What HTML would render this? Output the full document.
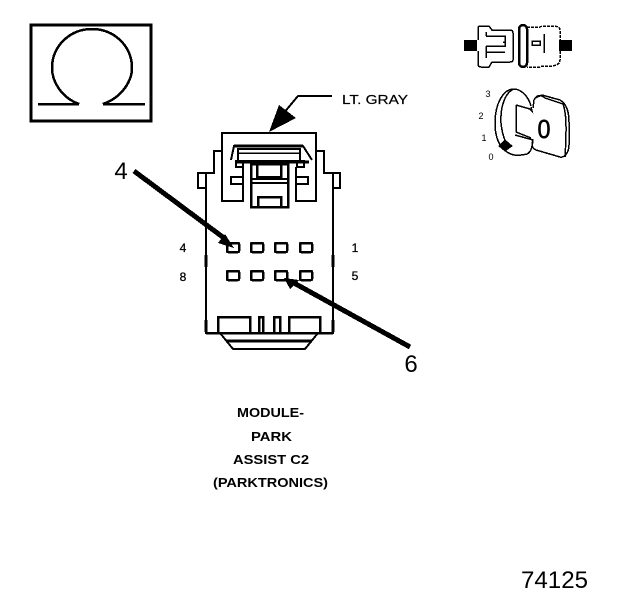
<!DOCTYPE html>
<html>
<head>
<meta charset="utf-8">
<style>
html,body{margin:0;padding:0;background:#fff}
svg{display:block}
text{font-family:"Liberation Sans",sans-serif;fill:#000}
</style>
</head>
<body>
<svg width="624" height="600" viewBox="0 0 624 600" xmlns="http://www.w3.org/2000/svg">
<rect width="624" height="600" fill="#fff"/>
<g shape-rendering="crispEdges">
<!-- Omega -->
<rect x="31" y="25" width="120" height="96" fill="none" stroke="#000" stroke-width="3"/>
<path d="M38 104H79C60 97 52 80 52 68C52 46 70 29 92 29C114 29 132 46 132 68C132 80 123 97 103 104H145" fill="none" stroke="#000" stroke-width="2.500"/>
<!-- Connector outline -->
<g fill="none" stroke="#000" stroke-width="2">
<path d="M206 333V173H214V151H222V133H316V151H324V173H333V333H206Z"/>
<path d="M222 133V201H243V167M316 133V201H296V167"/>
<path d="M206 173H198V188H206V173M333 173H340V188H333V173"/>
<path d="M231 160L234 146H303L312 160"/>
<path d="M234 146H303" stroke-width="3"/>
<path d="M238 149H300V161H238Z"/>
<path d="M235 162H309" stroke-width="3"/>
<path d="M238 153H300" stroke-width="1.500"/>
<path d="M236 161H243V167H236ZM297 161H304V167H297Z"/>
<path d="M251 162V207H288V162" stroke-width="2.500"/>
<path d="M257 163V177H281V163" stroke-width="2.500"/>
<path d="M252 164H287" stroke-width="3"/>
<path d="M252 179H287M252 183H287"/>
<path d="M258 207V197H281V207" stroke-width="2.500"/>
<path d="M243 177H231V184H243M296 177H308V184H296"/>
<path d="M206 255V267M333 255V267M206 320V332M333 320V332" stroke-width="3"/>
<!-- pins -->
<g stroke-width="2.500">
<rect x="227" y="243" width="12" height="9" rx="1"/>
<rect x="251" y="243" width="12" height="9" rx="1"/>
<rect x="275" y="243" width="12" height="9" rx="1"/>
<rect x="300" y="243" width="12" height="9" rx="1"/>
<rect x="227" y="271" width="12" height="9" rx="1"/>
<rect x="251" y="271" width="12" height="9" rx="1"/>
<rect x="275" y="271" width="12" height="9" rx="1"/>
<rect x="300" y="271" width="12" height="9" rx="1"/>
</g>
<!-- bottom -->
<path d="M218 333V317H250V333M259 333V317H263V333M274 333V317H280V333M289 333V317H320V333" stroke-width="2.500"/>
<path d="M206 333H333" stroke-width="2.500"/>
<path d="M220 333L233 349H305L318 333"/>
<path d="M227 341H312" stroke-width="3"/>
</g>
<!-- Arrows -->
<path d="M134 171L224 238" stroke="#000" stroke-width="5" fill="none"/>
<path d="M234 248L218 243L225 234Z" fill="#000"/>
<path d="M410 347L294 283" stroke="#000" stroke-width="5" fill="none"/>
<path d="M284 278L299 280L290 289Z" fill="#000"/>
<path d="M332 96H298L283 114" stroke="#000" stroke-width="2" fill="none"/>
<path d="M269 132L279 105L296 118Z" fill="#000"/>
<!-- Key top -->
<rect x="464" y="40" width="13" height="11" fill="#000"/>
<rect x="559" y="40" width="13" height="11" fill="#000"/>
<g fill="none" stroke="#000" stroke-width="1.500">
<path d="M478 40V28Q478 26 481 26H489L492 30H510Q513 30 513 33V60Q513 62 510 62H492L489 67H481Q478 67 478 64V51"/>
<path d="M486 36H505V42H503M505 42V46H486M486 46V52H505M486 36V32M486 52V58"/>
<path d="M527 27H540L542 26H552Q560 26 560 30V40M560 51V60Q560 65 552 66H542L540 67H527" stroke-dasharray="3 1"/>
<path d="M532 41H540V45H532ZM544 34V53"/>
</g>
<rect x="519" y="25" width="8" height="42" rx="4" fill="none" stroke="#000" stroke-width="2.500"/>
<!-- Key bottom -->
<g fill="none" stroke="#000" stroke-width="1.500">
<path d="M531 106C528 95 520 89 514 89C503 89 495 104 495 123C495 138 500 148 507 152C514 157 522 155 527 154C531 152 532 148 533 140L515 135"/>
<path d="M514 89C506 92 500 105 501 123C502 133 504 140 508 146"/>
<path d="M516 105L530 109L532 111L531 107M516 105V132L531 138"/>
<path d="M535 98L542 95L560 100C567 104 569 112 569 122V145C569 152 565 158 560 157L536 150C532 148 531 145 533 140"/>
<path d="M533 108L534 100C537 94 541 95 545 98L563 104C566 112 567 125 565 157"/>
</g>
<path d="M505 140L512 146L505 151L499 146Z" fill="#000" stroke="#000" stroke-width="1"/>
</g>
<text x="544" y="138" font-size="26" text-anchor="middle" stroke="#000" stroke-width=".6" textLength="13" lengthAdjust="spacingAndGlyphs">0</text>
<text x="488" y="97" font-size="9" text-anchor="middle">3</text>
<text x="481" y="119" font-size="9" text-anchor="middle">2</text>
<text x="484" y="141" font-size="9" text-anchor="middle">1</text>
<text x="491" y="160" font-size="9" text-anchor="middle">0</text>
<!-- Labels -->
<text x="342" y="104" font-size="13" stroke="#000" stroke-width=".2" textLength="66" lengthAdjust="spacingAndGlyphs">LT. GRAY</text>
<text x="121" y="179" font-size="24" text-anchor="middle">4</text>
<text x="411" y="372" font-size="24" text-anchor="middle">6</text>
<g stroke="#000" stroke-width=".3">
<text x="183" y="252" font-size="12" text-anchor="middle">4</text>
<text x="183" y="281" font-size="12" text-anchor="middle">8</text>
<text x="355" y="252" font-size="12" text-anchor="middle">1</text>
<text x="355" y="280" font-size="12" text-anchor="middle">5</text>
</g>
<g font-size="13" font-weight="bold">
<text x="237" y="417" textLength="67" lengthAdjust="spacingAndGlyphs">MODULE-</text>
<text x="251" y="441" textLength="41" lengthAdjust="spacingAndGlyphs">PARK</text>
<text x="233" y="464" textLength="76" lengthAdjust="spacingAndGlyphs">ASSIST C2</text>
<text x="213" y="487" textLength="115" lengthAdjust="spacingAndGlyphs">(PARKTRONICS)</text>
</g>
<text x="521" y="588" font-size="24" textLength="67" lengthAdjust="spacingAndGlyphs">74125</text>
</svg>
</body>
</html>
